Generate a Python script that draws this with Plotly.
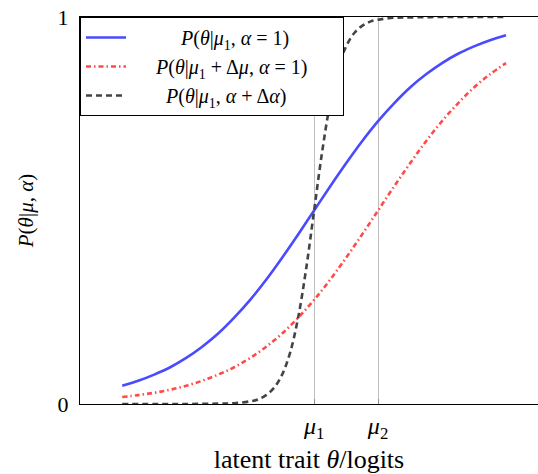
import plotly.graph_objects as go

# latent trait positions (logits) where values were read
theta = [-3, -2.75, -2.5, -2.25, -2, -1.75, -1.5, -1.25, -1, -0.75, -0.5, -0.25,
         0, 0.25, 0.5, 0.75, 1, 1.25, 1.5, 1.75, 2, 2.25, 2.5, 2.75, 3]
p_base = [0.047, 0.060, 0.076, 0.095, 0.119, 0.148, 0.182, 0.223, 0.269, 0.321, 0.378, 0.438,
          0.500, 0.562, 0.622, 0.679, 0.731, 0.777, 0.818, 0.852, 0.881, 0.905, 0.924, 0.940, 0.953]
p_shift = [0.018, 0.023, 0.029, 0.037, 0.047, 0.060, 0.076, 0.095, 0.119, 0.148, 0.182, 0.223,
           0.269, 0.321, 0.378, 0.438, 0.500, 0.562, 0.622, 0.679, 0.731, 0.777, 0.818, 0.852, 0.881]
theta_steep = [-3, -2.5, -2, -1.5, -1.25, -1, -0.875, -0.75, -0.625, -0.5, -0.375, -0.25, -0.125,
               0, 0.125, 0.25, 0.375, 0.5, 0.625, 0.75, 0.875, 1, 1.25, 1.5, 2, 2.5, 3]
p_steep = [0.000, 0.000, 0.000, 0.001, 0.002, 0.007, 0.012, 0.023, 0.042, 0.076, 0.133, 0.223, 0.349,
           0.500, 0.651, 0.777, 0.867, 0.924, 0.958, 0.977, 0.988, 0.993, 0.998, 0.999, 1.000, 1.000, 1.000]

tick_vals = [0, 1]
tick_text = ["<i>μ</i><sub>1</sub>", "<i>μ</i><sub>2</sub>"]
names = [
    "<i>P</i>(<i>θ</i>|<i>μ</i><sub>1</sub>, <i>α</i> = 1)",
    "<i>P</i>(<i>θ</i>|<i>μ</i><sub>1</sub> + Δ<i>μ</i>, <i>α</i> = 1)",
    "<i>P</i>(<i>θ</i>|<i>μ</i><sub>1</sub>, <i>α</i> + Δ<i>α</i>)",
]
NB = "\u00a0"
lead = [10, 5, 7]
trail = [0, 6, 0]

FONT = "Liberation Serif"

fig = go.Figure()
fig.add_trace(go.Scatter(x=theta, y=p_base, mode="lines", line_shape="spline",
                         name=NB * lead[0] + names[0] + NB * trail[0],
                         line=dict(color="#4a4aff", width=2.6)))
fig.add_trace(go.Scatter(x=theta, y=p_shift, mode="lines", line_shape="spline",
                         name=NB * lead[1] + names[1] + NB * trail[1],
                         line=dict(color="#ff4a4a", width=2.6, dash="5px,3px,1.5px,3px")))
fig.add_trace(go.Scatter(x=theta_steep, y=p_steep, mode="lines", line_shape="spline",
                         name=NB * lead[2] + names[2] + NB * trail[2],
                         line=dict(color="#444444", width=2.6, dash="6px,4px")))

fig.update_layout(
    width=538, height=474,
    margin=dict(l=80, r=0, t=17, b=70),
    plot_bgcolor="white", paper_bgcolor="white",
    font=dict(family=FONT, size=21, color="black"),
    showlegend=True,
    legend=dict(x=0, y=1, xanchor="left", yanchor="top",
                bgcolor="white", bordercolor="black", borderwidth=1,
                font=dict(family=FONT, size=20), itemwidth=40,
                tracegroupgap=0),
    xaxis=dict(range=[-3.66, 3.5], tickvals=tick_vals, ticktext=tick_text,
               tickfont=dict(size=24),
               showgrid=True, gridcolor="#c0c0c0", gridwidth=1,
               showline=True, linecolor="black", linewidth=1, mirror=True,
               ticks="inside", ticklen=5, tickcolor="#909090",
               zeroline=False,
               title=dict(text="latent trait <i>θ</i>/logits", standoff=8,
                          font=dict(size=26))),
    yaxis=dict(range=[0, 1], tickvals=[0, 1], ticktext=["0", "1"],
               tickfont=dict(size=22),
               showgrid=False, zeroline=False,
               showline=True, linecolor="black", linewidth=1,
               ticks="", ticklabelstandoff=6,
               title=dict(text="<i>P</i>(<i>θ</i>|<i>μ</i>, <i>α</i>)", standoff=18,
                          font=dict(size=21))),
)

fig.write_html("out.html")
